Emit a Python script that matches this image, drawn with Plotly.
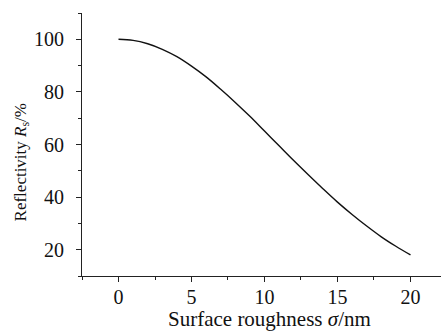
import plotly.graph_objects as go

# Surface roughness (nm) and corresponding reflectivity (%)
roughness_nm = [0, 1, 2, 3, 4, 5, 6, 7, 8, 9, 10,
                11, 12, 13, 14, 15, 16, 17, 18, 19, 20]
reflectivity_pct = [100.0, 99.6, 98.3, 96.2, 93.4, 89.8, 85.7, 81.0, 76.0, 70.7, 65.1,
                    59.5, 53.9, 48.5, 43.2, 38.1, 33.4, 29.0, 24.9, 21.3, 18.0]

x_ticks = [0, 5, 10, 15, 20]
y_ticks = [20, 40, 60, 80, 100]

FONT = "Liberation Serif"
INK = "#111111"

fig = go.Figure(
    go.Scatter(
        x=roughness_nm,
        y=reflectivity_pct,
        mode="lines",
        line=dict(color=INK, width=1.4, shape="spline", smoothing=1.0),
        hoverinfo="skip",
        showlegend=False,
    )
)

axis_common = dict(
    showgrid=False,
    zeroline=False,
    showline=True,
    linecolor="#222222",
    linewidth=1.2,
    ticks="outside",
    ticklen=5,
    tickwidth=1,
    tickcolor="#222222",
    tickfont=dict(family=FONT, size=20, color=INK),
)

fig.update_xaxes(
    **axis_common,
    range=[-2.5, 22.09],
    tickvals=x_ticks,
    ticklabelstandoff=-2,
    minor=dict(dtick=2.5, tick0=0, ticks="outside", ticklen=3, tickcolor="#222222"),
)
fig.update_yaxes(
    **axis_common,
    range=[10, 110],
    tickvals=y_ticks,
    ticklabelstandoff=8,
    minor=dict(dtick=10, tick0=0, ticks="outside", ticklen=3, tickcolor="#222222"),
)

# Axis titles placed as annotations for exact positioning
fig.add_annotation(
    text="Surface roughness <i>σ</i>/nm",
    xref="paper", yref="paper", x=0.522, y=-0.165,
    xanchor="center", yanchor="middle", showarrow=False,
    font=dict(family=FONT, size=21, color=INK),
)
fig.add_annotation(
    text="Reflectivity <i>R</i><sub>s</sub>/%",
    xref="paper", yref="paper", x=-0.167, y=0.432,
    xanchor="center", yanchor="middle", textangle=-90, showarrow=False,
    font=dict(family=FONT, size=17, color=INK),
)

fig.update_layout(
    width=441,
    height=331,
    margin=dict(l=82, r=0, t=13, b=55),
    paper_bgcolor="white",
    plot_bgcolor="white",
)

fig.write_html("out.html")
